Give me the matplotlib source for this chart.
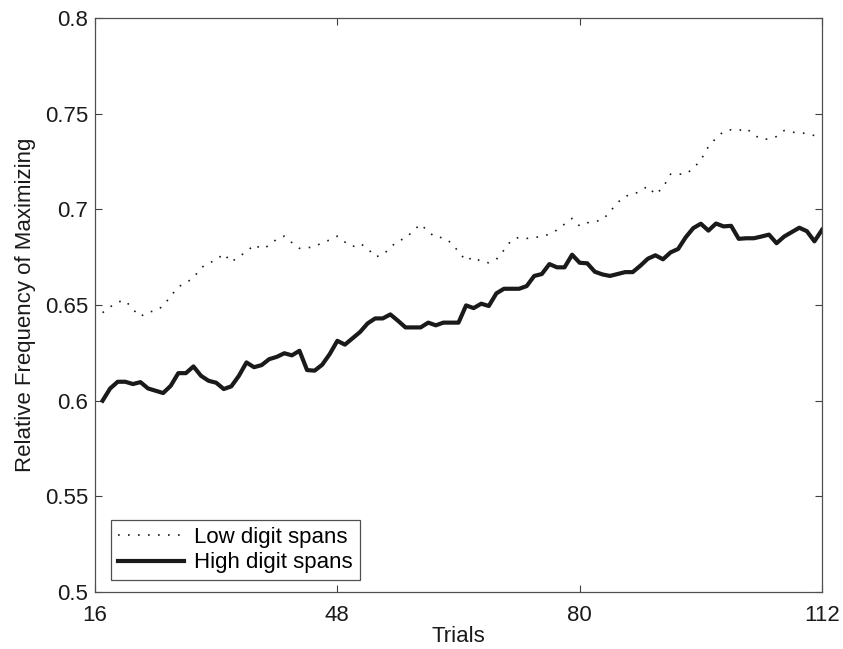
import numpy as np
import matplotlib
matplotlib.use('Agg')
import matplotlib.pyplot as plt

plt.rcParams['font.family'] = ['Liberation Sans', 'DejaVu Sans']

# trials (moving window end points)
trials = np.arange(17, 113)

low_span = [
    0.646, 0.649, 0.6516, 0.6524, 0.6477, 0.644, 0.6464, 0.6469, 0.6495, 0.6547,
    0.6595, 0.6616, 0.6642, 0.6694, 0.6720, 0.6734, 0.6769, 0.6724, 0.6755, 0.6776,
    0.6816, 0.6793, 0.6811, 0.6845, 0.6860, 0.6826, 0.6796, 0.6799, 0.6805, 0.6826,
    0.6840, 0.6860, 0.6829, 0.6805, 0.6822, 0.6796, 0.6752, 0.6761, 0.6801, 0.6836,
    0.6848, 0.6888, 0.6923, 0.6883, 0.6853, 0.6853, 0.6826, 0.6779, 0.6731, 0.6752,
    0.6726, 0.6721, 0.6739, 0.6787, 0.6840, 0.6854, 0.6848, 0.6854, 0.6857, 0.6871,
    0.6892, 0.6923, 0.6953, 0.6913, 0.6930, 0.6937, 0.6944, 0.6988, 0.7035, 0.7070,
    0.7075, 0.7097, 0.7121, 0.7077, 0.7114, 0.7184, 0.7184, 0.7184, 0.7214, 0.7258,
    0.7328, 0.7372, 0.7407, 0.7416, 0.7412, 0.7424, 0.7389, 0.7367, 0.7367, 0.7381,
    0.7412, 0.7403, 0.7402, 0.7395, 0.7386, 0.7375,
]

high_span = [
    0.600, 0.6064, 0.6099, 0.6099, 0.6087, 0.6097, 0.6064, 0.6052, 0.6040, 0.6078,
    0.6144, 0.6144, 0.6179, 0.6130, 0.6104, 0.6094, 0.6061, 0.6075, 0.6130, 0.6200,
    0.6175, 0.6186, 0.6217, 0.6229, 0.6248, 0.6237, 0.6261, 0.6160, 0.6157, 0.6188,
    0.6244, 0.6313, 0.6293, 0.6326, 0.6359, 0.6404, 0.6430, 0.6430, 0.6451, 0.6418,
    0.6383, 0.6383, 0.6383, 0.6408, 0.6394, 0.6408, 0.6408, 0.6408, 0.6498, 0.6484,
    0.6507, 0.6495, 0.6561, 0.6585, 0.6585, 0.6585, 0.6599, 0.6652, 0.6662, 0.6714,
    0.6697, 0.6697, 0.6763, 0.6721, 0.6718, 0.6674, 0.6660, 0.6652, 0.6662, 0.6672,
    0.6672, 0.6705, 0.6742, 0.6760, 0.6739, 0.6775, 0.6793, 0.6854, 0.6902, 0.6925,
    0.6889, 0.6926, 0.6911, 0.6914, 0.6846, 0.6849, 0.6849, 0.6858, 0.6868, 0.6823,
    0.6858, 0.6881, 0.6904, 0.6886, 0.6833, 0.6893,
]

xticks = [16, 48, 80, 112]
yticks = [0.5, 0.55, 0.6, 0.65, 0.7, 0.75, 0.8]
ytick_labels = ['0.5', '0.55', '0.6', '0.65', '0.7', '0.75', '0.8']

fig = plt.figure(figsize=(8.43, 6.49), dpi=100)
ax = fig.add_axes([0.1127, 0.0878, 0.8624, 0.8844])

ax.plot(trials, low_span, color='#1a1a1a', lw=1.2, linestyle=(0, (1, 5)),
        label='Low digit spans')
ax.plot(trials, high_span, color='#1a1a1a', lw=3.0, label='High digit spans')

ax.set_xlim(16, 112)
ax.set_ylim(0.5, 0.8)
ax.set_xticks(xticks)
ax.set_yticks(yticks)
ax.set_yticklabels(ytick_labels)
ax.tick_params(direction='in', length=5, width=0.8, colors='#404040',
               labelcolor='#1a1a1a', labelsize=16, top=True, right=True)
ax.tick_params(axis='x', pad=9)
ax.tick_params(axis='y', pad=5)
for sp in ax.spines.values():
    sp.set_color('#505050')
    sp.set_linewidth(0.9)

ax.set_xlabel('Trials', fontsize=16, color='#1a1a1a', labelpad=0.5)
ax.set_ylabel('Relative Frequency of Maximizing', fontsize=16, color='#1a1a1a',
              labelpad=6)

leg = ax.legend(loc='lower left', bbox_to_anchor=(0.022, 0.021), borderaxespad=0,
                fontsize=16, handlelength=3.0, handletextpad=0.45, labelspacing=0.2,
                borderpad=0.3, fancybox=False, framealpha=1)
leg.get_frame().set_edgecolor('#505050')
leg.get_frame().set_linewidth(0.9)

fig.savefig('out.png', dpi=100)
